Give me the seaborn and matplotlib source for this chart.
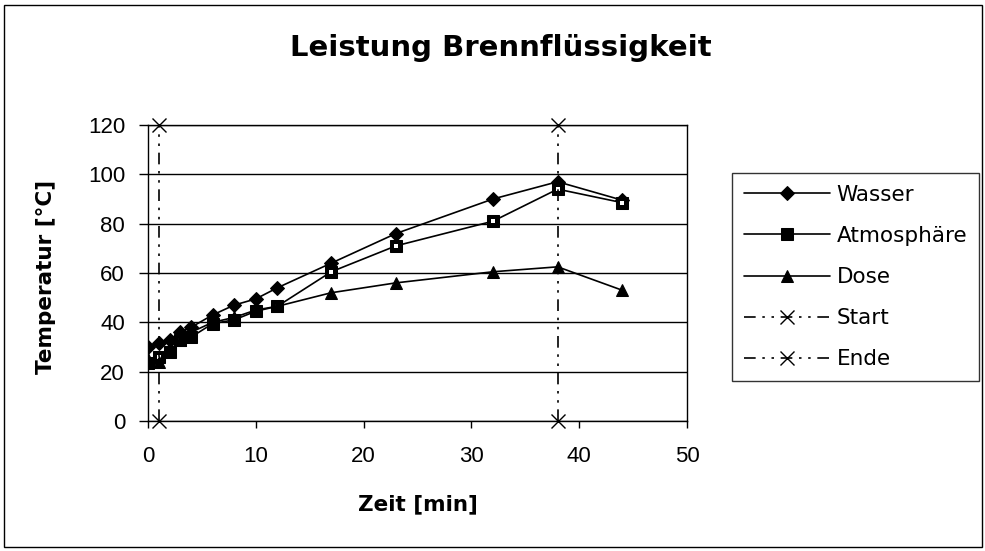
import matplotlib
matplotlib.use("Agg")
import matplotlib.pyplot as plt
from matplotlib.patches import Rectangle
import seaborn as sns
import pandas as pd

# data
zeit = [0, 1, 2, 3, 4, 6, 8, 10, 12, 17, 23, 32, 38, 44]
wasser = [30, 31.5, 33, 36, 38, 43, 47, 49.5, 54, 64, 76, 90, 97, 89.5]
atmosphaere = [23.5, 26, 28, 33, 34, 39.5, 41, 44.5, 46.5, 60.5, 71, 81, 94, 88.5]
dose = [25, 24, 30, 33, 36, 40, 42, 45, 46.5, 52, 56, 60.5, 62.5, 53]
start_x = [1, 1]
start_y = [0, 120]
ende_x = [38, 38]
ende_y = [0, 120]

title = "Leistung Brennflüssigkeit"
x_label = "Zeit [min]"
y_label = "Temperatur [°C]"

sns.set_theme(style="white")
plt.rcParams['font.family'] = ['Liberation Sans', 'DejaVu Sans']
plt.rcParams['text.color'] = 'black'
plt.rcParams['axes.labelcolor'] = 'black'

fig = plt.figure(figsize=(9.85, 5.51), dpi=100)
ax = fig.add_axes([148 / 985, 1 - 421 / 551, (687 - 148) / 985, (421 - 125) / 551])

df = pd.DataFrame({"Zeit": zeit, "Wasser": wasser, "Atmosphäre": atmosphaere, "Dose": dose})

sns.lineplot(data=df, x="Zeit", y="Wasser", ax=ax, color="black", lw=1.2,
             marker="D", markersize=7, markeredgecolor="black", label="Wasser")
sns.lineplot(data=df, x="Zeit", y="Atmosphäre", ax=ax, color="black", lw=1.2,
             marker="s", markersize=8, markeredgecolor="black", label="Atmosphäre")
ax.plot(df["Zeit"], df["Atmosphäre"], ls="none", marker="s", markersize=2.5,
        color="white", markeredgewidth=0)
sns.lineplot(data=df, x="Zeit", y="Dose", ax=ax, color="black", lw=1.2,
             marker="^", markersize=8, markeredgecolor="black", label="Dose")

dashdot = (0, (7, 4, 1.5, 4, 1.5, 4))
sns.lineplot(x=start_x, y=start_y, ax=ax, color="black", lw=1.2, linestyle=dashdot,
             marker="x", markersize=10, markeredgewidth=1.0, markeredgecolor="black",
             label="Start", sort=False, estimator=None, clip_on=False)
sns.lineplot(x=ende_x, y=ende_y, ax=ax, color="black", lw=1.2, linestyle=dashdot,
             marker="x", markersize=10, markeredgewidth=1.0, markeredgecolor="black",
             label="Ende", sort=False, estimator=None, clip_on=False)

ax.set_xlim(0, 50)
ax.set_ylim(0, 120)
ax.set_xticks(range(0, 51, 10))
ax.set_yticks(range(0, 121, 20))
ax.yaxis.grid(True, color="black", lw=1.0)
ax.xaxis.grid(False)
for s in ax.spines.values():
    s.set_color("black")
    s.set_linewidth(1.0)
ax.tick_params(axis="both", which="both", direction="out", width=1,
               color="black", labelsize=16, labelcolor="black")
ax.tick_params(axis="x", length=5, pad=13)
ax.tick_params(axis="y", length=6.5, pad=10)
ax.tick_params(left=True, bottom=True)

lab_font = dict(family="DejaVu Sans", fontsize=15.5, fontweight="bold", color="black")
ax.set_xlabel(x_label, **lab_font)
ax.set_ylabel(y_label, **lab_font)
ax.xaxis.set_label_coords(0.5, -(504 - 421) / 296, transform=ax.transAxes)
ax.xaxis.label.set_va("center")
ax.yaxis.label.set_va("center")
ax.yaxis.set_label_coords((46 - 148) / 539, (421 - 277) / 296)
fig.text(501 / 985, 1 - 48 / 551, title, family="DejaVu Sans", fontsize=21,
         fontweight="bold", color="black", ha="center", va="center")

handles, labels = ax.get_legend_handles_labels()
ax.get_legend().remove()
leg = fig.legend(handles, labels, loc="upper left",
                 bbox_to_anchor=(732 / 985, 1 - 173 / 551),
                 frameon=True, fancybox=False, handlelength=4.0,
                 prop=dict(family="DejaVu Sans", size=15.5),
                 labelspacing=0.98, borderpad=0.55, handletextpad=0.3,
                 borderaxespad=0)
leg.get_frame().set_edgecolor("black")
leg.get_frame().set_linewidth(1.0)

fig.add_artist(Rectangle((4 / 985, 4 / 551), 978 / 985, 542 / 551,
                         transform=fig.transFigure, fill=False,
                         edgecolor="black", lw=1.0))

fig.savefig("out.png", dpi=100, facecolor="white")
